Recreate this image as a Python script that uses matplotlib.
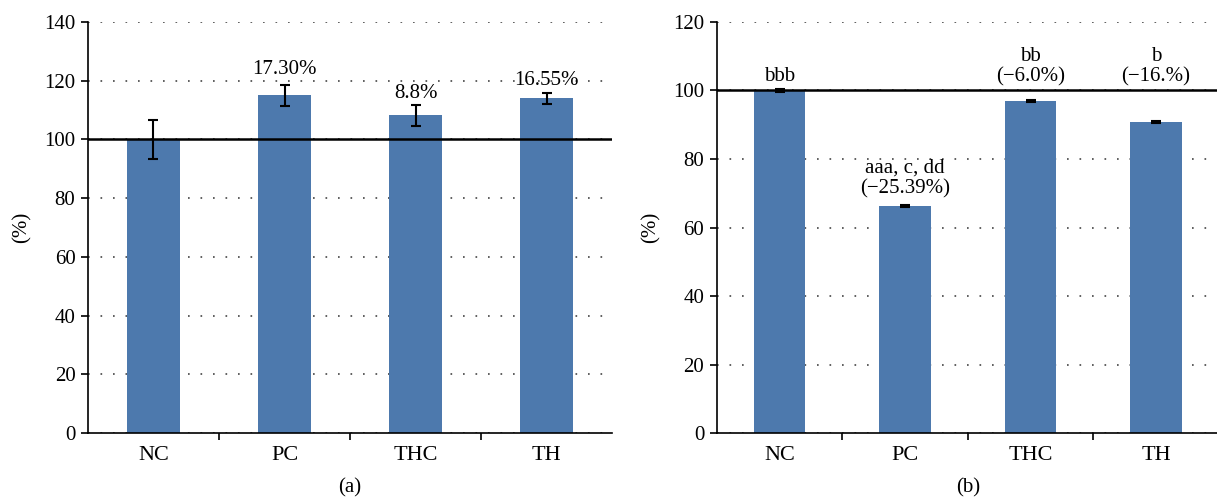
import matplotlib.pyplot as plt
import numpy as np

plt.rcParams['font.family'] = ['Liberation Serif', 'DejaVu Serif']

groups = ['NC', 'PC', 'THC', 'TH']

# panel (a)
vals_a = [100, 115, 108.2, 114]
err_a = [6.7, 3.5, 3.5, 1.9]
notes_a = ['', '17.30%', '8.8%', '16.55%']
note_y_a = [None, 120.5, 112.5, 117.0]

# panel (b)
vals_b = [100, 66.4, 96.8, 90.9]
err_b = [0.3, 0.3, 0.3, 0.3]
notes_b = ['bbb', 'aaa, c, dd\n(\u221225.39%)', 'bb\n(\u22126.0%)', 'b\n(\u221216.%)']
note_y_b = [101.2, 68.6, 101.2, 101.2]

bar_color = '#4d79ad'

fig = plt.figure(figsize=(12.17, 5.01), dpi=100)
ax_a = fig.add_axes([0.0723, 0.1357, 0.4306, 0.8204])
ax_b = fig.add_axes([0.589, 0.1357, 0.4125, 0.8204])


def draw_panel(ax, vals, errs, notes, note_y, ymax, label):
    x = np.arange(len(groups))
    ax.set_axisbelow(True)
    ax.yaxis.grid(True, linestyle=(0, (1, 6.5)), color='#444444', linewidth=1.2)
    ax.bar(x, vals, width=0.41, color=bar_color, zorder=2)
    ax.errorbar(x, vals, yerr=errs, fmt='none', ecolor='black',
                elinewidth=1.5, capsize=3.5, capthick=1.5, zorder=3)
    ax.axhline(100, color='black', linewidth=1.8, zorder=4)
    for xi, t, ty in zip(x, notes, note_y):
        if t:
            ax.text(xi, ty, t, ha='center', va='bottom', fontsize=15,
                    linespacing=1.1, zorder=5)
    ax.set_xlim(-0.5, len(groups) - 0.5)
    ax.set_ylim(0, ymax)
    ax.set_yticks(np.arange(0, ymax + 1, 20))
    ax.set_xticks(x)
    ax.set_xticklabels(groups)
    ax.set_xticks(np.arange(0.5, len(groups) - 0.5), minor=True)
    ax.tick_params(axis='x', which='major', length=0, pad=9, labelsize=16)
    ax.tick_params(axis='x', which='minor', length=5, width=1.2)
    ax.tick_params(axis='y', length=5, width=1.2, labelsize=15, pad=4)
    for s in ['top', 'right']:
        ax.spines[s].set_visible(False)
    for s in ['left', 'bottom']:
        ax.spines[s].set_linewidth(1.2)
    ax.set_ylabel('(%)', fontsize=15, labelpad=9)
    ax.text(0.5, -0.134, label, transform=ax.transAxes, ha='center',
            va='center', fontsize=15)


draw_panel(ax_a, vals_a, err_a, notes_a, note_y_a, 140, '(a)')
draw_panel(ax_b, vals_b, err_b, notes_b, note_y_b, 120, '(b)')

fig.savefig('out.png', dpi=100)
